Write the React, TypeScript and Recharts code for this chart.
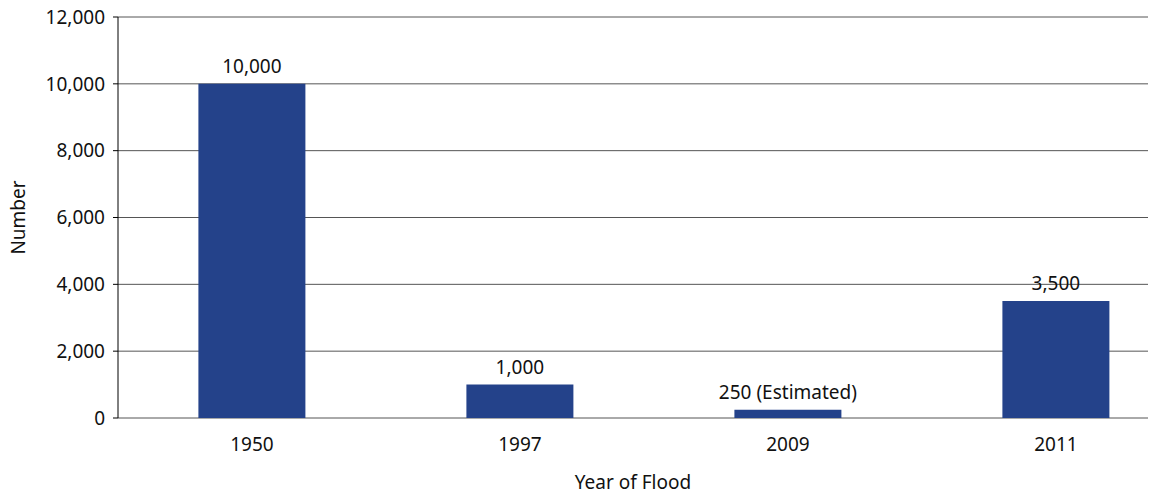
import React from "react";
import { BarChart, Bar, XAxis, YAxis, CartesianGrid, LabelList } from "recharts";

const years = ["1950", "1997", "2009", "2011"];
const floodCounts = [10000, 1000, 250, 3500];
const barLabels = ["10,000", "1,000", "250 (Estimated)", "3,500"];
const yTicks = [0, 2000, 4000, 6000, 8000, 10000, 12000];
const boundaryTicks = [0, 1, 2, 3, 4];

const data = years.map((y, i) => ({ year: y, value: floodCounts[i], label: barLabels[i] }));

const FONT = "'Noto Sans', sans-serif";
const FS = 19;
const BAR_COLOR = "#24428a";
const textStyle = { fontSize: FS, fill: "#111", fontFamily: FONT };

// plain text above each bar, no wrapping
const BarLabel = (props: any) => {
  const { x, y, width, value } = props;
  return (
    <text x={x + width / 2} y={y - 11} textAnchor="middle" style={textStyle}>
      {value}
    </text>
  );
};

const App: React.FC = () => {
  return (
    <div style={{ margin: -8, width: 1156, height: 500, overflow: "hidden", fontFamily: FONT }}>
      <BarChart
        width={1200}
        height={500}
        data={data}
        margin={{ top: 17, right: 10, bottom: 0, left: 0 }}
        barCategoryGap="30%"
      >
        <CartesianGrid xAxisId="cat" vertical={false} stroke="#555" />
        <XAxis
          xAxisId="bounds"
          type="number"
          dataKey={() => 0}
          domain={[0, 4]}
          ticks={boundaryTicks}
          tick={false}
          tickSize={8}
          height={0}
          axisLine={{ stroke: "#000" }}
          tickLine={{ stroke: "#000" }}
        />
        <XAxis
          xAxisId="cat"
          dataKey="year"
          height={82}
          axisLine={false}
          tickLine={false}
          tickSize={0}
          tickMargin={20}
          tick={textStyle}
          label={{
            value: "Year of Flood",
            position: "insideBottom",
            offset: 11,
            dx: -21,
            style: textStyle,
          }}
        />
        <YAxis
          width={118}
          domain={[0, 12000]}
          ticks={yTicks}
          interval={0}
          tickFormatter={(v: number) => v.toLocaleString("en-US")}
          tick={textStyle}
          tickSize={5}
          tickMargin={8}
          axisLine={{ stroke: "#000" }}
          tickLine={{ stroke: "#000" }}
          label={{
            value: "Number",
            angle: -90,
            position: "insideLeft",
            offset: 18,
            style: { ...textStyle, textAnchor: "middle" },
          }}
        />
        <Bar xAxisId="cat" dataKey="value" fill={BAR_COLOR} isAnimationActive={false}>
          <LabelList dataKey="label" content={BarLabel} />
        </Bar>
      </BarChart>
    </div>
  );
};

export default App;
